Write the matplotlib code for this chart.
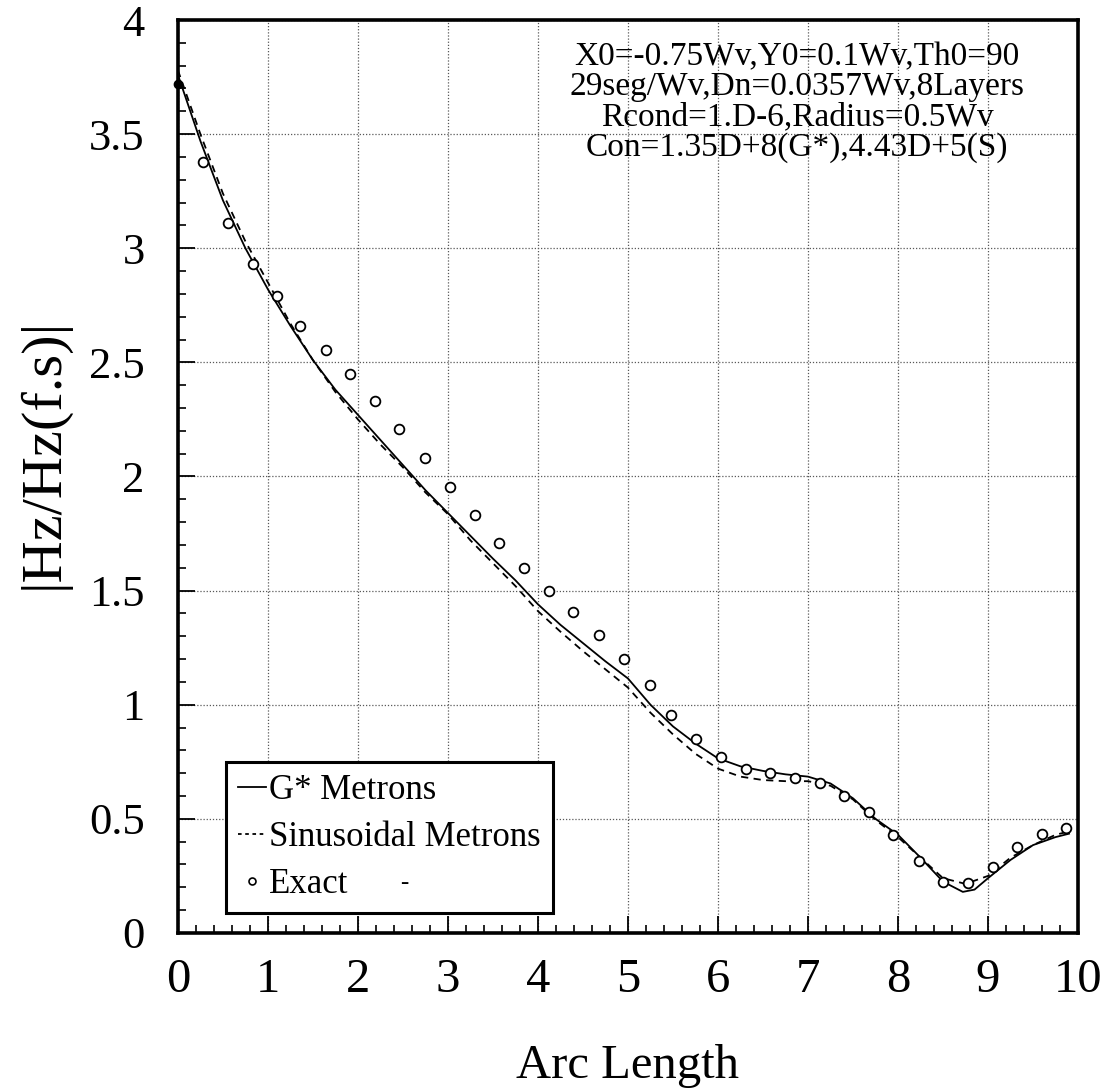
import matplotlib
matplotlib.use("Agg")
from matplotlib import pyplot as plt
from matplotlib.ticker import MultipleLocator, FormatStrFormatter
from matplotlib.lines import Line2D

# G* metrons (solid curve)
g_x = [0, 0.25, 0.5, 0.75, 1.0, 1.25, 1.5, 1.75, 2.0, 2.25, 2.5, 2.75, 3.0,
       3.25, 3.5, 3.75, 4.0, 4.25, 4.5, 4.75, 5.0, 5.25, 5.5, 5.75, 6.0,
       6.25, 6.5, 6.75, 7.0, 7.25, 7.5, 7.75, 8.0, 8.25, 8.5, 8.72, 8.85,
       9.0, 9.25, 9.5, 9.75, 9.9]
g_y = [3.76, 3.47, 3.21, 3.00, 2.82, 2.66, 2.51, 2.38, 2.27, 2.16, 2.05,
       1.94, 1.84, 1.74, 1.64, 1.545, 1.44, 1.35, 1.27, 1.19, 1.115, 1.00,
       0.905, 0.83, 0.765, 0.73, 0.71, 0.695, 0.685, 0.655, 0.59, 0.50, 0.43,
       0.33, 0.225, 0.18, 0.19, 0.24, 0.32, 0.385, 0.42, 0.435]

# sinusoidal metrons (dashed curve)
s_x = [0, 0.25, 0.5, 0.75, 1.0, 1.25, 1.5, 1.75, 2.0, 2.25, 2.5, 2.75, 3.0,
       3.25, 3.5, 3.75, 4.0, 4.25, 4.5, 4.75, 5.0, 5.25, 5.5, 5.75, 6.0,
       6.25, 6.5, 6.75, 7.0, 7.25, 7.5, 7.75, 8.0, 8.25, 8.5, 8.75, 9.0,
       9.25, 9.5, 9.75, 9.9]
s_y = [3.78, 3.50, 3.24, 3.03, 2.85, 2.67, 2.51, 2.37, 2.25, 2.14, 2.04,
       1.93, 1.835, 1.72, 1.62, 1.52, 1.41, 1.32, 1.235, 1.155, 1.075, 0.965,
       0.87, 0.785, 0.72, 0.685, 0.67, 0.665, 0.665, 0.645, 0.585, 0.495,
       0.42, 0.33, 0.24, 0.215, 0.25, 0.33, 0.385, 0.43, 0.445]

# exact solution (circles)
e_x = [0, 0.28, 0.56, 0.83, 1.10, 1.36, 1.64, 1.91, 2.19, 2.46, 2.74, 3.02,
       3.30, 3.57, 3.85, 4.12, 4.39, 4.68, 4.96, 5.24, 5.48, 5.76, 6.03,
       6.31, 6.58, 6.86, 7.13, 7.40, 7.68, 7.94, 8.23, 8.50, 8.78, 9.06,
       9.32, 9.60, 9.87]
e_y = [3.72, 3.38, 3.11, 2.93, 2.79, 2.66, 2.555, 2.45, 2.33, 2.21, 2.08,
       1.955, 1.83, 1.71, 1.60, 1.50, 1.405, 1.305, 1.20, 1.085, 0.955, 0.85,
       0.77, 0.72, 0.70, 0.68, 0.655, 0.60, 0.53, 0.43, 0.315, 0.225, 0.22,
       0.29, 0.375, 0.435, 0.46]

info_lines = ["X0=-0.75Wv,Y0=0.1Wv,Th0=90",
              "29seg/Wv,Dn=0.0357Wv,8Layers",
              "Rcond=1.D-6,Radius=0.5Wv",
              "Con=1.35D+8(G*),4.43D+5(S)"]

plt.rcParams['font.family'] = ['Liberation Serif', 'DejaVu Serif']

fig = plt.figure(figsize=(11.05, 10.88), dpi=100)
ax = fig.add_axes([0.161, 0.1425, 0.8146, 0.8391])

ax.plot(g_x, g_y, color='black', lw=1.3)
ax.plot(s_x, s_y, color='black', lw=1.3, dashes=(4, 3))
ax.plot(e_x[1:], e_y[1:], 'o', mfc='white', mec='black', ms=7, mew=1.3,
        clip_on=False, zorder=4)
# first point sits on the axis and prints as a dark dot
ax.plot(e_x[:1], e_y[:1], 'o', color='black', ms=6, clip_on=False, zorder=5)

ax.set_xlim(0, 10)
ax.set_ylim(0, 4)
ax.xaxis.set_major_locator(MultipleLocator(1))
ax.xaxis.set_minor_locator(MultipleLocator(0.2))
ax.yaxis.set_major_locator(MultipleLocator(0.5))
ax.yaxis.set_minor_locator(MultipleLocator(0.1))
ax.yaxis.set_major_formatter(FormatStrFormatter('%g'))

ax.tick_params(which='major', direction='in', length=12, width=1.3,
               top=False, right=False)
ax.tick_params(which='minor', direction='in', length=6, width=1.2,
               top=False, right=False)
ax.tick_params(axis='x', which='major', labelsize=35, pad=18)
ax.tick_params(axis='y', which='major', labelsize=32, pad=24)

ax.grid(True, which='major', color='0.35', lw=0.9, linestyle=(0, (1, 1.5)))

for sp in ax.spines.values():
    sp.set_linewidth(2.6)

ax.set_xlabel('Arc Length', fontsize=35, labelpad=30)
ax.set_ylabel('|Hz/Hz(f.s)|', fontsize=42)
ax.yaxis.set_label_coords(-0.12, 0.525)

ax.text(0.688, 0.976, "\n".join(info_lines), transform=ax.transAxes,
        ha='center', va='top', fontsize=24, linespacing=0.98)

handles = [Line2D([], [], color='black', lw=1.3),
           Line2D([], [], color='black', lw=1.3, dashes=(2, 2)),
           Line2D([], [], marker='o', ls='', mfc='white', mec='black', ms=5, mew=1.2)]
leg = ax.legend(handles, ['G* Metrons', 'Sinusoidal Metrons', 'Exact'],
                loc='lower left', bbox_to_anchor=(0.053, 0.022),
                fontsize=25, frameon=True, fancybox=False, edgecolor='black',
                handlelength=0.8, handletextpad=0.1, labelspacing=0.4,
                borderpad=0.35, borderaxespad=0)
leg.get_frame().set_linewidth(2.2)
leg.get_frame().set_alpha(1)
ax.text(0.252, 0.055, '-', transform=ax.transAxes, fontsize=18,
        ha='center', va='center', zorder=10)

fig.savefig('out.png', dpi=100)
